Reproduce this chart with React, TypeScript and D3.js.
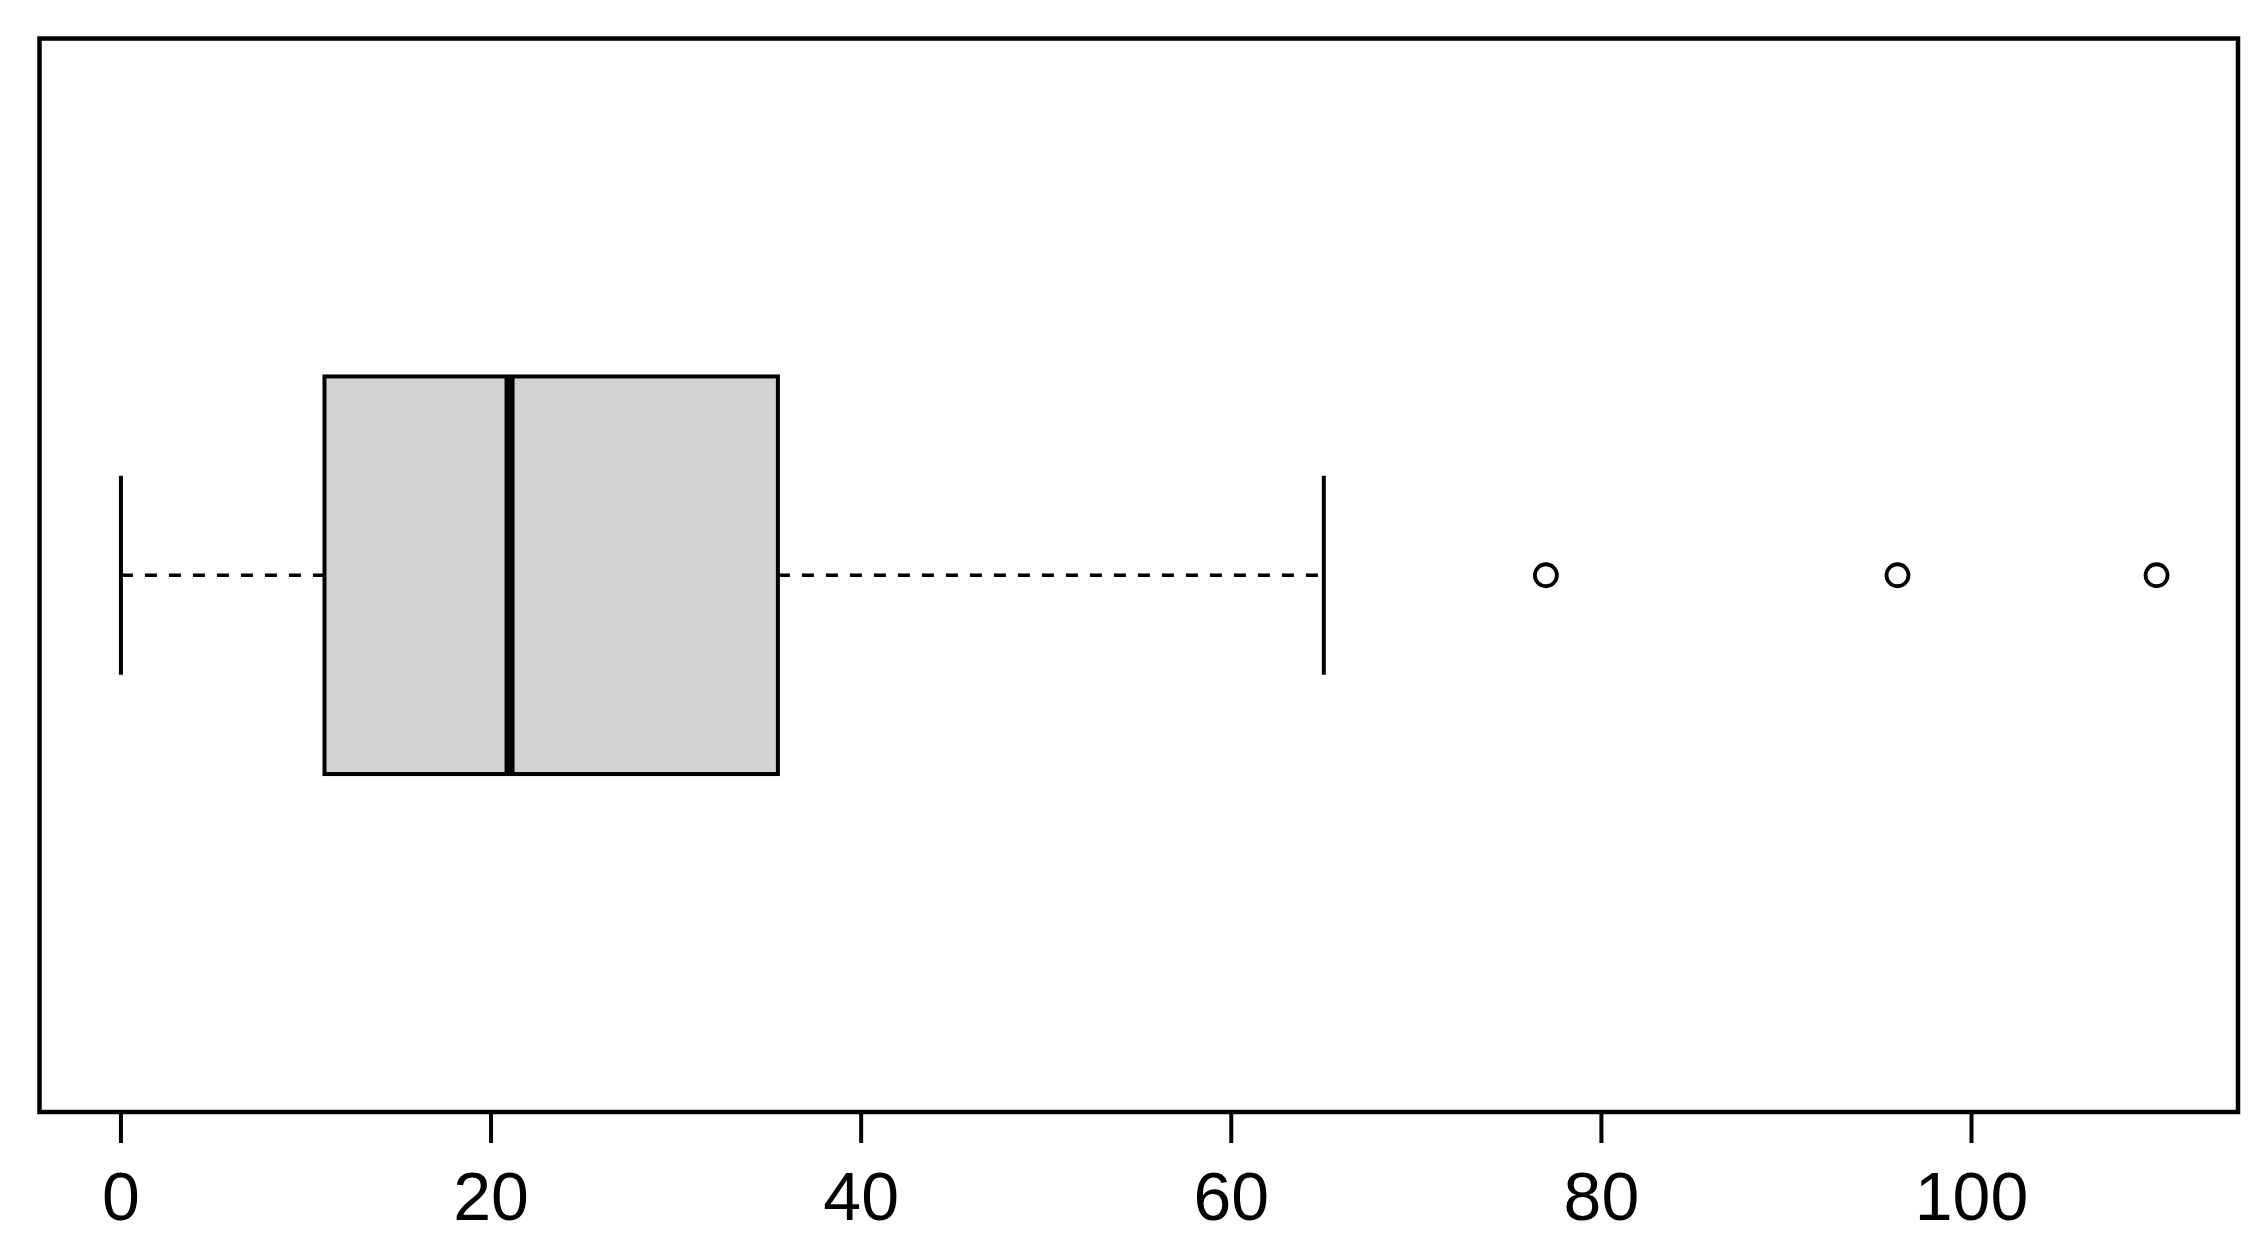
import React from 'react';
import * as d3 from 'd3';

// five-number summary
const stats = { min: 0, q1: 11, median: 21, q3: 35.5, max: 65 };
const outliers = [77, 96, 110];
const tickValues = [0, 20, 40, 60, 80, 100];

const width = 2263;
const height = 1252;

export default function App() {
  // R style: data range 0..110 padded by 4% on each side
  const x = d3.scaleLinear().domain([-4.4, 114.4]).range([39.5, 2238]);
  // single horizontal box at position 1, y range 0.5..1.5 padded 4%
  const y = d3.scaleLinear().domain([0.46, 1.54]).range([38.5, 1112]);

  const boxTop = y(0.8);
  const boxBottom = y(1.2);
  const capTop = y(0.9);
  const capBottom = y(1.1);
  const mid = y(1);

  const plotLeft = x(-4.4);
  const plotRight = x(114.4);
  const plotTop = y(0.46);
  const plotBottom = y(1.54);

  return (
    <svg width={width} height={height} style={{ position: 'absolute', left: 0, top: 0, background: '#fff' }}>
      {/* whiskers */}
      <line x1={x(stats.min)} x2={x(stats.q1)} y1={mid} y2={mid} stroke="#000" strokeWidth={3.5} strokeDasharray="12,12" />
      <line x1={x(stats.q3)} x2={x(stats.max)} y1={mid} y2={mid} stroke="#000" strokeWidth={3.5} strokeDasharray="12,12" />
      <line x1={x(stats.min)} x2={x(stats.min)} y1={capTop} y2={capBottom} stroke="#000" strokeWidth={4} />
      <line x1={x(stats.max)} x2={x(stats.max)} y1={capTop} y2={capBottom} stroke="#000" strokeWidth={4} />

      {/* box */}
      <rect
        x={x(stats.q1)}
        y={boxTop}
        width={x(stats.q3) - x(stats.q1)}
        height={boxBottom - boxTop}
        fill="#d3d3d3"
        stroke="#000"
        strokeWidth={4}
      />
      <line x1={x(stats.median)} x2={x(stats.median)} y1={boxTop} y2={boxBottom} stroke="#000" strokeWidth={10} />

      {/* outliers */}
      {outliers.map((v) => (
        <circle key={v} cx={x(v)} cy={mid} r={11} fill="none" stroke="#000" strokeWidth={3.8} />
      ))}

      {/* frame */}
      <rect
        x={plotLeft}
        y={plotTop}
        width={plotRight - plotLeft}
        height={plotBottom - plotTop}
        fill="none"
        stroke="#000"
        strokeWidth={4.5}
      />

      {/* x axis */}
      <g fontFamily="'Liberation Sans', Arial, sans-serif" fontSize={68} textAnchor="middle">
        {tickValues.map((t) => (
          <g key={t} transform={`translate(${x(t)},0)`}>
            <line y1={plotBottom} y2={plotBottom + 31} stroke="#000" strokeWidth={4} />
            <text y={1220}>{t}</text>
          </g>
        ))}
      </g>
    </svg>
  );
}
